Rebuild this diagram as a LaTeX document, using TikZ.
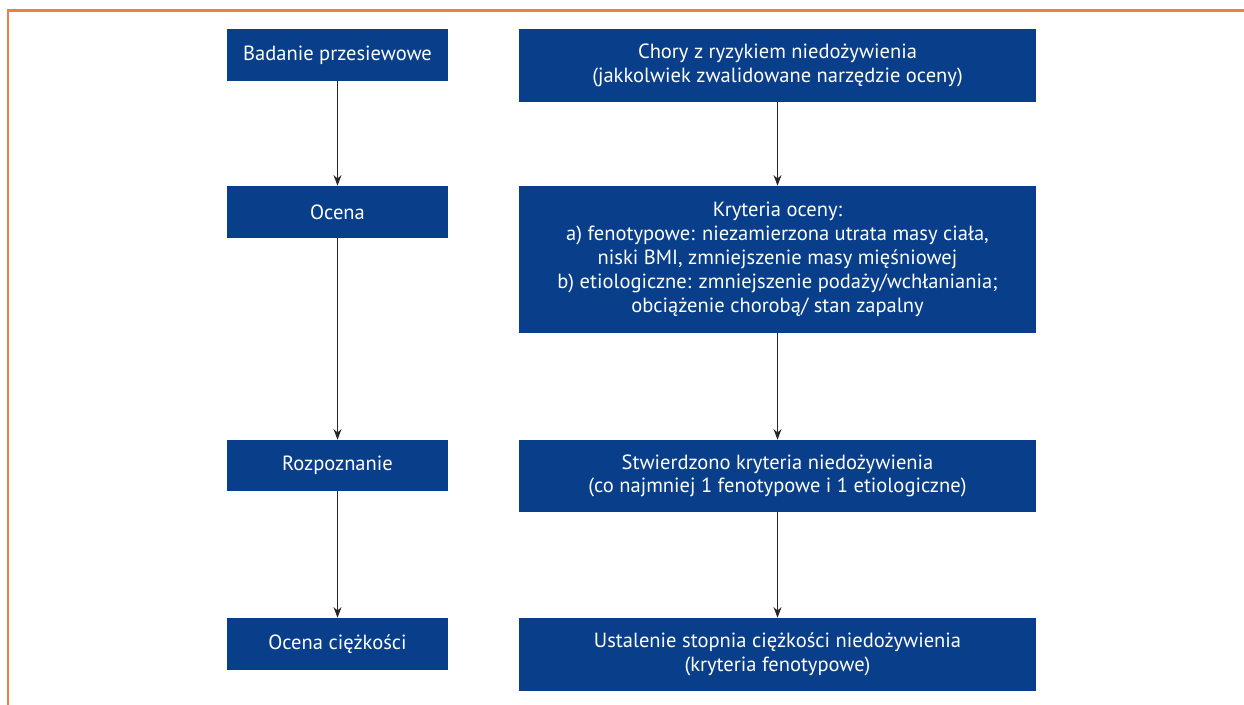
\documentclass[tikz,border=0pt]{standalone}
\usepackage{fontspec}
\setmainfont{PT Sans}
\usetikzlibrary{arrows.meta}
\definecolor{boxblue}{RGB}{9,62,138}
\definecolor{frameorange}{RGB}{236,128,64}
\tikzset{
  box/.style={draw=none, fill=boxblue, text=white, align=center, inner sep=0pt,
    font=\fontsize{15.4}{17.9}\selectfont},
  conn/.style={draw=black!85, line width=0.8pt, -{Stealth[length=8pt,width=6pt]}},
}
\begin{document}
\begin{tikzpicture}[x=0.75pt,y=-0.75pt]
\useasboundingbox (0,0) rectangle (1244,705);
\draw[frameorange, line width=1.6pt] (8,705) -- (8,10.5) -- (1244,10.5);
% left column
\node[box, minimum width=221*0.75pt, minimum height=52*0.75pt] (l1) at (337.5,55) {Badanie przesiewowe};
\node[box, minimum width=221*0.75pt, minimum height=52*0.75pt] (l2) at (337.5,212) {Ocena};
\node[box, minimum width=221*0.75pt, minimum height=51*0.75pt] (l3) at (337.5,465.5) {Rozpoznanie};
\node[box, minimum width=221*0.75pt, minimum height=52*0.75pt] (l4) at (337.5,644) {Ocena ciężkości};
% right column
\node[box, minimum width=517*0.75pt, minimum height=73*0.75pt] (r1) at (777.5,65.5) {Chory z ryzykiem niedożywienia\\(jakkolwiek zwalidowane narzędzie oceny)};
\node[box, minimum width=517*0.75pt, minimum height=147*0.75pt] (r2) at (777.5,259.5) {Kryteria oceny:\\a) fenotypowe: niezamierzona utrata masy ciała,\\niski BMI, zmniejszenie masy mięśniowej\\b) etiologiczne: zmniejszenie podaży/wchłaniania;\\obciążenie chorobą/ stan zapalny};
\node[box, minimum width=517*0.75pt, minimum height=72*0.75pt] (r3) at (777.5,476) {Stwierdzono kryteria niedożywienia\\(co najmniej 1 fenotypowe i 1 etiologiczne)};
\node[box, minimum width=517*0.75pt, minimum height=73*0.75pt] (r4) at (777.5,654.5) {Ustalenie stopnia ciężkości niedożywienia\\(kryteria fenotypowe)};
% connectors
\draw[conn] (l1) -- (l2);
\draw[conn] (l2) -- (l3);
\draw[conn] (l3) -- (l4);
\draw[conn] (r1) -- (r2);
\draw[conn] (r2) -- (r3);
\draw[conn] (r3) -- (r4);
\end{tikzpicture}
\end{document}
